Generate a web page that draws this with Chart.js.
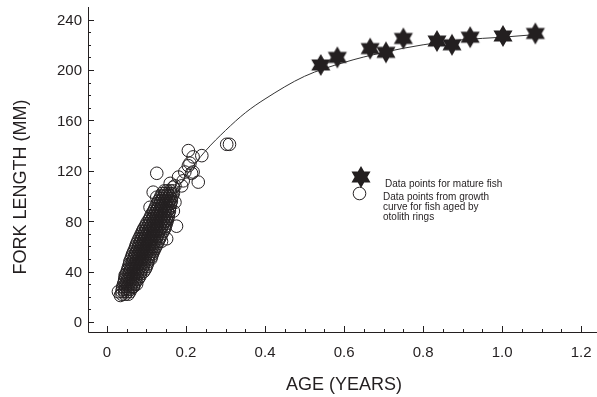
<!DOCTYPE html>
<html>
<head>
<meta charset="utf-8">
<script src="https://cdn.jsdelivr.net/npm/chart.js@4.4.0/dist/chart.umd.min.js"></script>
<style>
    html, body { margin: 0; padding: 0; background: #fff; overflow: hidden; }
    #wrap { width: 597px; height: 397px; }
    canvas { display: block; }
</style>
</head>
<body>
<div id="wrap"><canvas id="growthChart" width="597" height="397"></canvas></div>
<script>
// Mature fish (stars)
const matureAge = [0.541, 0.583, 0.666, 0.706, 0.750, 0.835, 0.873, 0.919, 1.002, 1.084];
const matureLength = [204, 210, 217, 214, 225, 223, 220, 226, 227, 229];

// Growth curve
const curveAge = [0.05, 0.10, 0.15, 0.20, 0.25, 0.30, 0.35, 0.40, 0.50, 0.60, 0.70, 0.80, 0.90, 1.00, 1.08];
const curveLength = [27, 62, 92, 116, 136, 152, 166, 177, 195, 206, 214, 220, 224, 226, 228];

// Otolith-aged fish, dense band: [fork length, ages at that length]
const otolithRows = [
    [22, [0.038, 0.046, 0.054]],
    [24, [0.038, 0.045, 0.052, 0.058]],
    [26, [0.039, 0.046, 0.053, 0.060]],
    [28, [0.040, 0.047, 0.054, 0.061, 0.066]],
    [30, [0.042, 0.049, 0.056, 0.063, 0.070]],
    [32, [0.044, 0.051, 0.058, 0.065, 0.073]],
    [34, [0.045, 0.052, 0.059, 0.066, 0.073, 0.079]],
    [36, [0.047, 0.054, 0.061, 0.068, 0.075, 0.083]],
    [38, [0.049, 0.056, 0.063, 0.070, 0.077, 0.085]],
    [40, [0.051, 0.058, 0.065, 0.072, 0.079, 0.086, 0.093]],
    [42, [0.053, 0.060, 0.067, 0.074, 0.081, 0.089, 0.097]],
    [44, [0.055, 0.062, 0.069, 0.076, 0.083, 0.091, 0.100]],
    [46, [0.057, 0.064, 0.071, 0.078, 0.085, 0.093, 0.102]],
    [48, [0.058, 0.066, 0.073, 0.080, 0.087, 0.095, 0.104]],
    [50, [0.061, 0.068, 0.075, 0.082, 0.089, 0.096, 0.104, 0.111]],
    [52, [0.063, 0.070, 0.077, 0.084, 0.091, 0.098, 0.106, 0.113]],
    [54, [0.065, 0.072, 0.079, 0.086, 0.093, 0.100, 0.108, 0.115]],
    [56, [0.068, 0.075, 0.082, 0.089, 0.096, 0.103, 0.111, 0.118]],
    [58, [0.071, 0.078, 0.085, 0.092, 0.099, 0.106, 0.114, 0.121]],
    [60, [0.073, 0.080, 0.087, 0.094, 0.101, 0.108, 0.116, 0.124]],
    [62, [0.075, 0.082, 0.089, 0.096, 0.103, 0.110, 0.118, 0.127]],
    [64, [0.078, 0.085, 0.092, 0.099, 0.106, 0.113, 0.121, 0.130]],
    [66, [0.081, 0.088, 0.095, 0.102, 0.109, 0.116, 0.124, 0.133]],
    [68, [0.084, 0.091, 0.098, 0.105, 0.112, 0.119, 0.127, 0.136]],
    [70, [0.087, 0.094, 0.101, 0.108, 0.115, 0.122, 0.130, 0.139]],
    [72, [0.090, 0.097, 0.104, 0.111, 0.118, 0.125, 0.133, 0.143]],
    [74, [0.093, 0.100, 0.107, 0.114, 0.121, 0.128, 0.136, 0.146]],
    [76, [0.097, 0.104, 0.111, 0.118, 0.125, 0.132, 0.140, 0.148]],
    [78, [0.100, 0.107, 0.114, 0.121, 0.128, 0.135, 0.143, 0.150]],
    [80, [0.104, 0.111, 0.118, 0.125, 0.132, 0.139, 0.146, 0.152]],
    [82, [0.108, 0.115, 0.122, 0.129, 0.136, 0.143, 0.150, 0.154]],
    [84, [0.111, 0.118, 0.125, 0.132, 0.139, 0.146, 0.155]],
    [86, [0.114, 0.121, 0.128, 0.135, 0.142, 0.149, 0.156]],
    [88, [0.118, 0.125, 0.132, 0.139, 0.146, 0.153, 0.158]],
    [90, [0.121, 0.128, 0.135, 0.142, 0.149, 0.158]],
    [92, [0.124, 0.131, 0.138, 0.145, 0.152, 0.160]],
    [94, [0.127, 0.134, 0.141, 0.148, 0.155, 0.161]],
    [96, [0.130, 0.137, 0.144, 0.151, 0.158, 0.163]],
    [98, [0.134, 0.141, 0.148, 0.155, 0.162]],
    [100, [0.137, 0.144, 0.151, 0.158, 0.165]],
    [102, [0.140, 0.147, 0.154, 0.161, 0.168]],
    [104, [0.145, 0.152, 0.160, 0.167]]
];

// Otolith-aged fish lying outside the dense band
const otolithAgeExtra = [0.029, 0.034, 0.046, 0.067, 0.075, 0.138, 0.151, 0.176, 0.126, 0.172, 0.168, 0.181, 0.189, 0.193, 0.197, 0.214, 0.218, 0.231, 0.206, 0.210, 0.218, 0.206, 0.240, 0.117, 0.126, 0.109, 0.303, 0.310, 0.160, 0.172, 0.168];
const otolithLengthExtra = [24, 21, 37, 28, 30, 64, 66, 76, 118, 108, 107, 115, 108, 112, 119, 118, 119, 111, 124, 126, 131, 136, 132, 103, 99, 91, 141, 141, 110, 95, 88];

const xTicks = [0, 0.2, 0.4, 0.6, 0.8, 1.0, 1.2];
const xTickLabels = ['0', '0.2', '0.4', '0.6', '0.8', '1.0', '1.2'];
const yTicks = [0, 40, 80, 120, 160, 200, 240];

const INK = '#231f20';
const FONT = "'Liberation Sans', Arial, Helvetica, sans-serif";

// Six-pointed star used as point style
function makeStar(r) {
    const size = Math.ceil(r * 2 + 2);
    const c = document.createElement('canvas');
    c.width = size;
    c.height = size;
    const g = c.getContext('2d');
    const cx = size / 2, cy = size / 2, ri = r / Math.sqrt(3);
    g.beginPath();
    for (let i = 0; i < 12; i++) {
        const a = -Math.PI / 2 + i * Math.PI / 6;
        const rad = i % 2 === 0 ? r : ri;
        g.lineTo(cx + rad * Math.cos(a), cy + rad * Math.sin(a));
    }
    g.closePath();
    g.fillStyle = INK;
    g.fill();
    return c;
}
const starImg = makeStar(11);

// Build point lists
const otolithPoints = [];
otolithRows.forEach(([len, ages]) => ages.forEach(a => otolithPoints.push({ x: a, y: len })));
otolithAgeExtra.forEach((a, i) => otolithPoints.push({ x: a, y: otolithLengthExtra[i] }));
const maturePoints = matureAge.map((a, i) => ({ x: a, y: matureLength[i] }));
const curvePoints = curveAge.map((a, i) => ({ x: a, y: curveLength[i] }));

// Axes with inward ticks, tick labels, titles and legend
const decorPlugin = {
    id: 'decor',
    afterDraw(chart) {
        const ctx = chart.ctx;
        const xs = chart.scales.x, ys = chart.scales.y;
        const area = chart.chartArea;
        ctx.save();
        ctx.strokeStyle = INK;
        ctx.lineWidth = 1;
        ctx.beginPath();
        ctx.moveTo(area.left + 0.5, area.top);
        ctx.lineTo(area.left + 0.5, area.bottom + 0.5);
        ctx.lineTo(area.right, area.bottom + 0.5);
        // x ticks
        for (let v = 0; v <= 1.2001; v += 0.05) {
            const px = Math.round(xs.getPixelForValue(v)) + 0.5;
            const major = Math.abs(v / 0.2 - Math.round(v / 0.2)) < 0.01;
            ctx.moveTo(px, area.bottom);
            ctx.lineTo(px, area.bottom - (major ? 6 : 3));
        }
        // y ticks
        for (let v = 0; v <= 240; v += 10) {
            const py = Math.round(ys.getPixelForValue(v)) + 0.5;
            const major = v % 40 === 0;
            ctx.moveTo(area.left, py);
            ctx.lineTo(area.left + (major ? 6 : 3), py);
        }
        ctx.stroke();

        // tick labels
        ctx.fillStyle = INK;
        ctx.font = '15px ' + FONT;
        ctx.textBaseline = 'alphabetic';
        ctx.textAlign = 'center';
        xTicks.forEach((v, i) => ctx.fillText(xTickLabels[i], xs.getPixelForValue(v), area.bottom + 25));
        ctx.textAlign = 'right';
        yTicks.forEach(v => ctx.fillText(String(v), area.left - 6, ys.getPixelForValue(v) + 5.5));

        // axis titles
        ctx.font = '18px ' + FONT;
        ctx.textAlign = 'center';
        ctx.fillText('AGE (YEARS)', 344, 390);
        ctx.save();
        ctx.translate(26, 187);
        ctx.rotate(-Math.PI / 2);
        ctx.fillText('FORK LENGTH (MM)', 0, 0);
        ctx.restore();

        // legend
        ctx.drawImage(starImg, 361 - starImg.width / 2, 177 - starImg.height / 2);
        ctx.beginPath();
        ctx.arc(359.5, 193.5, 6.3, 0, Math.PI * 2);
        ctx.fillStyle = '#fff';
        ctx.fill();
        ctx.stroke();
        ctx.fillStyle = INK;
        ctx.font = '10px ' + FONT;
        ctx.textAlign = 'left';
        ctx.fillText('Data points for mature fish', 385, 186.5);
        ctx.fillText('Data points from growth', 383, 199.5);
        ctx.fillText('curve for fish aged by', 383, 209.5);
        ctx.fillText('otolith rings', 383, 220);
        ctx.restore();
    }
};

const ctx = document.getElementById('growthChart').getContext('2d');
const growthChart = new Chart(ctx, {
    type: 'scatter',
    data: {
        datasets: [
            {
                label: 'Data points for mature fish',
                data: maturePoints,
                pointStyle: starImg,
                pointRadius: 11,
                order: 1,
                clip: false
            },
            {
                label: 'Data points from growth curve for fish aged by otolith rings',
                data: otolithPoints,
                pointStyle: 'circle',
                pointRadius: 6.3,
                borderWidth: 1,
                borderColor: INK,
                backgroundColor: 'rgba(0,0,0,0)',
                order: 2,
                clip: false
            },
            {
                label: 'Growth curve',
                type: 'line',
                data: curvePoints,
                showLine: true,
                borderColor: '#333',
                borderWidth: 1,
                pointRadius: 0,
                fill: false,
                cubicInterpolationMode: 'monotone',
                order: 3
            }
        ]
    },
    options: {
        responsive: false,
        animation: false,
        devicePixelRatio: 1,
        layout: { autoPadding: false, padding: { top: 7, right: 0, left: 0, bottom: 0 } },
        plugins: {
            legend: { display: false },
            tooltip: { enabled: false }
        },
        scales: {
            x: {
                type: 'linear',
                min: -0.048,
                max: 1.24,
                grid: { display: false, drawTicks: false },
                border: { display: false },
                ticks: { display: false },
                afterFit: s => { s.height = 65; },
                afterBuildTicks: s => { s.ticks = xTicks.map(v => ({ value: v })); }
            },
            y: {
                type: 'linear',
                min: -8,
                max: 250,
                grid: { display: false, drawTicks: false },
                border: { display: false },
                ticks: { display: false },
                afterFit: s => { s.width = 88; },
                afterBuildTicks: s => { s.ticks = yTicks.map(v => ({ value: v })); }
            }
        }
    },
    plugins: [decorPlugin]
});
</script>
</body>
</html>
